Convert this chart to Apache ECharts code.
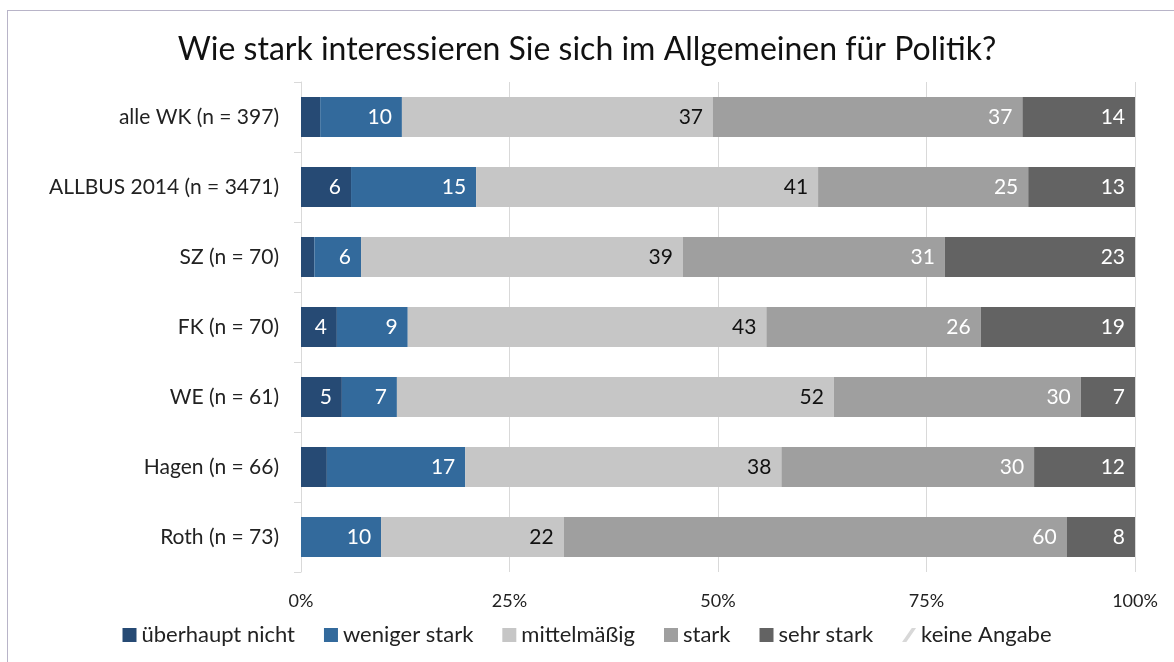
<!DOCTYPE html>
<html>
<head>
<meta charset="utf-8">
<script src="https://cdn.jsdelivr.net/npm/echarts@6/dist/echarts.min.js"></script>
<style>
  html, body { margin: 0; padding: 0; background: #fff; }
  #main { position: absolute; left: 0; top: 0; width: 1174px; height: 662px; }
  #frame { position: absolute; left: 7px; top: 10px; width: 1180px; height: 670px; border: 1px solid #b8b4c8; box-sizing: border-box; }
</style>
</head>
<body>
<div id="frame"></div>
<div id="main"></div>
<script>
// categories (top to bottom)
const categories = [
  "alle WK (n = 397)",
  "ALLBUS 2014 (n = 3471)",
  "SZ (n = 70)",
  "FK (n = 70)",
  "WE (n = 61)",
  "Hagen (n = 66)",
  "Roth (n = 73)"
];
const seriesNames = ["überhaupt nicht", "weniger stark", "mittelmäßig", "stark", "sehr stark", "keine Angabe"];

// percentages
const ueberhauptNicht = [2.3, 6.0, 1.6, 4.3, 4.9, 3.1, 0];
const wenigerStark    = [9.8, 15.0, 5.6, 8.5, 6.6, 16.6, 9.6];
const mittelmaessig   = [37.3, 41.0, 38.6, 43.0, 52.4, 37.9, 21.9];
const stark           = [37.1, 25.2, 31.4, 25.7, 29.6, 30.3, 60.3];
const sehrStark       = [13.5, 12.8, 22.8, 18.6, 6.6, 12.1, 8.2];
const keineAngabe     = [0, 0, 0, 0, 0, 0, 0];

const xTicks = [0, 25, 50, 75, 100];

const colors = ["#264a74", "#336a9c", "#c6c6c6", "#9f9f9f", "#636363", "#e4e4e4"];
const labelColors = ["#ffffff", "#ffffff", "#111111", "#ffffff", "#ffffff", "#111111"];
const font = "Lato, 'Open Sans', sans-serif";

const dataSets = [ueberhauptNicht, wenigerStark, mittelmaessig, stark, sehrStark, keineAngabe];

let myChart = echarts.init(document.getElementById("main"));

let series = seriesNames.map(function (name, i) {
  return {
    name: name,
    type: "bar",
    stack: "total",
    barWidth: 40,
    data: dataSets[i],
    itemStyle: { color: colors[i] },
    label: {
      show: true,
      position: "insideRight",
      distance: 10,
      color: labelColors[i],
      fontFamily: font,
      fontSize: 21,
      formatter: function (p) {
        return p.value < 3.5 ? "" : Math.round(p.value);
      }
    },
    emphasis: { disabled: true }
  };
});

let option = {
  animation: false,
  textStyle: { fontFamily: font },
  title: {
    text: "Wie stark interessieren Sie sich im Allgemeinen für Politik?",
    left: "center",
    top: 29,
    textStyle: { fontFamily: font, fontSize: 32, fontWeight: "normal", color: "#111" }
  },
  legend: {
    bottom: 11,
    left: "center",
    itemWidth: 14,
    itemHeight: 14,
    itemGap: 29,
    icon: "rect",
    textStyle: { fontFamily: font, fontSize: 22, color: "#222" },
    data: seriesNames.map(function (n, i) {
      if (i === 5) {
        return { name: n, icon: "path://M0,13 L9,0 L13,0 L4,13 Z", itemStyle: { color: "#d8d8d8" } };
      }
      return { name: n };
    })
  },
  grid: { left: 301, right: 39, top: 82, height: 490, containLabel: false },
  xAxis: {
    type: "value",
    min: 0,
    max: 100,
    interval: 25,
    axisLabel: {
      formatter: function (v) { return xTicks.indexOf(v) >= 0 ? v + "%" : ""; },
      fontFamily: font,
      fontSize: 18,
      color: "#222",
      margin: 20
    },
    splitLine: { lineStyle: { color: "#d9d9d9", width: 1 } },
    axisLine: { show: false },
    axisTick: { show: false }
  },
  yAxis: {
    type: "category",
    inverse: true,
    data: categories,
    axisLine: { show: true, lineStyle: { color: "#d9d9d9" } },
    axisTick: { show: true, length: 7, lineStyle: { color: "#d9d9d9" } },
    axisLabel: { fontFamily: font, fontSize: 21, color: "#222", margin: 22 }
  },
  series: series
};

myChart.setOption(option);
</script>
</body>
</html>
